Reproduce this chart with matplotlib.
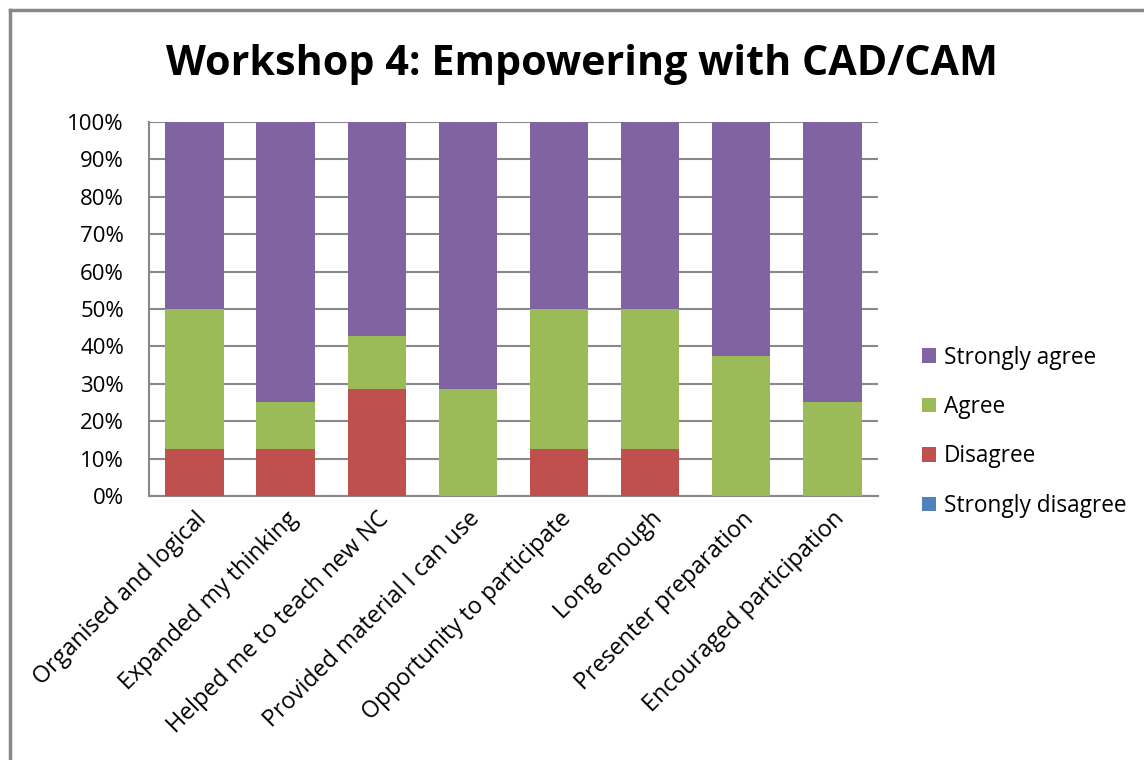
import numpy as np
import matplotlib.pyplot as plt
from matplotlib.lines import Line2D

plt.rcParams['font.family'] = ['Open Sans', 'DejaVu Sans']

# 数据（百分比）
categories = ['Organised and logical', 'Expanded my thinking', 'Helped me to teach new NC',
              'Provided material I can use', 'Opportunity to participate', 'Long enough',
              'Presenter preparation', 'Encouraged participation']
strongly_disagree = [0, 0, 0, 0, 0, 0, 0, 0]
disagree = [12.5, 12.5, 28.6, 0, 12.5, 12.5, 0, 0]
agree = [37.5, 12.5, 14.3, 28.6, 37.5, 37.5, 37.5, 25.0]
strongly_agree = [50.0, 75.0, 57.1, 71.4, 50.0, 50.0, 62.5, 75.0]

series = [('Strongly disagree', strongly_disagree, '#4F81BD'),
          ('Disagree', disagree, '#C0504D'),
          ('Agree', agree, '#9BBB59'),
          ('Strongly agree', strongly_agree, '#8064A2')]

fig = plt.figure(figsize=(11.44, 7.6), dpi=100)
ax = fig.add_axes([0.1302, 0.3474, 0.6373, 0.4921])

x = np.arange(len(categories))
bottom = np.zeros(len(categories))
bars = {}
for name, vals, col in series:
    vals = np.array(vals, dtype=float)
    bars[name] = ax.bar(x, vals, 0.64, bottom=bottom, color=col, zorder=3)
    bottom += vals

ax.set_xlim(-0.5, len(categories) - 0.5)
ax.set_ylim(0, 100)
ax.set_yticks(np.arange(0, 101, 10))
ax.set_yticklabels(['%d%%' % v for v in range(0, 101, 10)], fontsize=16)
ax.set_xticks(x)
ax.set_xticklabels(categories, rotation=45, ha='right', rotation_mode='anchor', fontsize=16.8)
ax.tick_params(axis='x', length=0, pad=8)
ax.tick_params(axis='y', length=0, pad=18)
ax.yaxis.grid(True, color='#888888', linewidth=1.5, zorder=0)
for s in ['top', 'right']:
    ax.spines[s].set_visible(False)
for s in ['left', 'bottom']:
    ax.spines[s].set_color('#888888')
    ax.spines[s].set_linewidth(1.5)

fig.text(0.509, 0.915, 'Workshop 4: Empowering with CAD/CAM', ha='center', va='center',
         fontsize=29.7, fontweight='bold')

order = ['Strongly agree', 'Agree', 'Disagree', 'Strongly disagree']
ax.legend([bars[n] for n in order], order, loc='center left', bbox_to_anchor=(1.033, 0.172),
          frameon=False, fontsize=16.3, handlelength=0.6, handleheight=0.6,
          handletextpad=0.35, labelspacing=1.12)

# 外框
fig.add_artist(Line2D([10 / 1144, 1.0], [1 - 10 / 760, 1 - 10 / 760], color='#888888', lw=2.5))
fig.add_artist(Line2D([10 / 1144, 10 / 1144], [0, 1 - 10 / 760], color='#888888', lw=2.5))

fig.savefig('out.png', dpi=100)
